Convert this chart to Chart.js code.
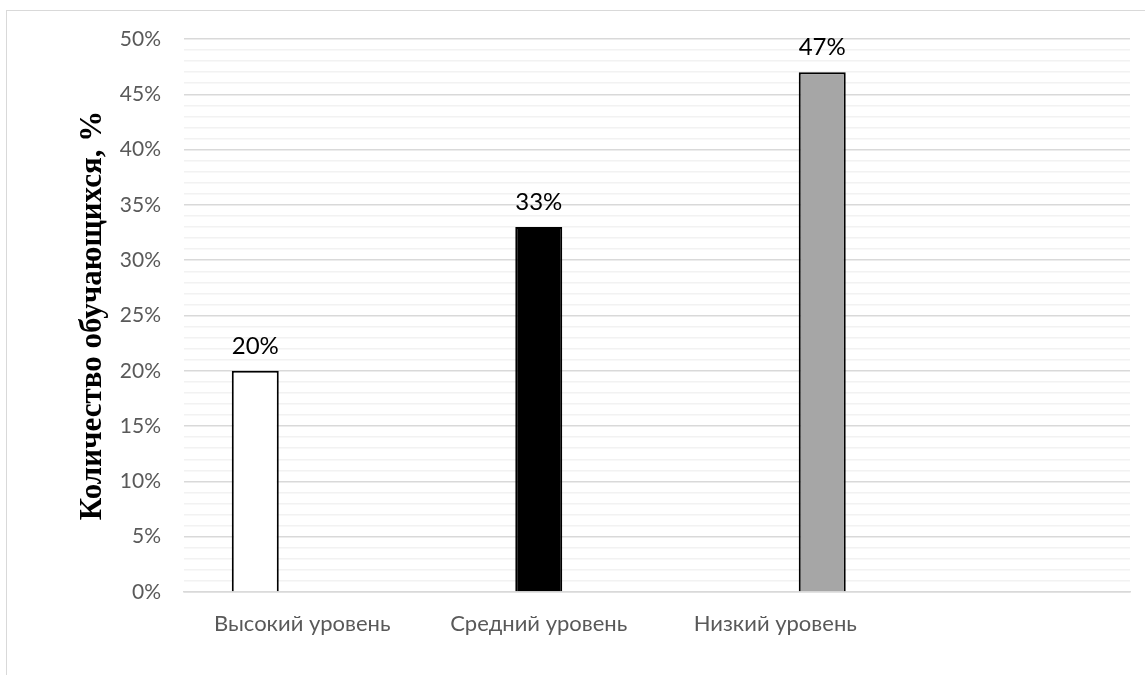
<!DOCTYPE html>
<html>
<head>
<meta charset="utf-8">
<script src="https://cdn.jsdelivr.net/npm/chart.js@4"></script>
<style>
    html, body { margin: 0; padding: 0; background: #fff; overflow: hidden; }
    #frame {
        position: absolute; left: 6px; top: 10px; width: 1200px; height: 700px;
        border-left: 1.5px solid #d9d9d9; border-top: 1.5px solid #d9d9d9;
    }
    #wrap { position: absolute; left: 0; top: 0; width: 1145px; height: 675px; }
</style>
</head>
<body>
<div id="frame"></div>
<div id="wrap"><canvas id="grafico"></canvas></div>
<script>
const categorias = ['Высокий уровень', 'Средний уровень', 'Низкий уровень', ''];
const valores = [20, 33, 47];
const cores = ['#ffffff', '#000000', '#a6a6a6'];
const tituloY = 'Количество обучающихся, %';

const fonteCalibri = 'Lato, "Open Sans", Arial, sans-serif';

// one dataset per level, value only in its own category
const datasets = valores.map(function (v, i) {
    const linha = categorias.map(function () { return null; });
    linha[i] = v;
    return {
        data: linha,
        backgroundColor: cores[i],
        borderColor: '#000000',
        borderWidth: 2,
        categoryPercentage: 0.596,
        barPercentage: 1.0
    };
});

const rotulosPlugin = {
    id: 'rotulos',
    afterDatasetsDraw(chart) {
        const ctx = chart.ctx;
        ctx.save();
        ctx.fillStyle = '#000000';
        ctx.font = '24px ' + fonteCalibri;
        ctx.textAlign = 'center';
        ctx.textBaseline = 'middle';
        chart.data.datasets.forEach(function (ds, i) {
            const meta = chart.getDatasetMeta(i);
            meta.data.forEach(function (el, j) {
                if (ds.data[j] === null) return;
                ctx.fillText(ds.data[j] + '%', el.x, el.y - 25);
            });
        });
        ctx.restore();
    }
};

const ctx = document.getElementById('grafico').getContext('2d');
new Chart(ctx, {
    type: 'bar',
    data: { labels: categorias, datasets: datasets },
    options: {
        responsive: true,
        maintainAspectRatio: false,
        animation: false,
        layout: { padding: { top: 39, right: 15, left: 0, bottom: 0 } },
        plugins: {
            legend: { display: false },
            tooltip: { enabled: false }
        },
        scales: {
            x: {
                grid: { display: false },
                border: { color: '#d9d9d9', width: 1.5 },
                ticks: {
                    color: '#595959',
                    font: { family: fonteCalibri, size: 22 },
                    padding: 11,
                    maxRotation: 0
                },
                afterFit: function (scale) { scale.height = 83; }
            },
            y: {
                min: 0,
                max: 50,
                border: { display: false },
                grid: {
                    drawTicks: false,
                    lineWidth: 1.5,
                    color: function (c) {
                        return c.tick && c.tick.value % 5 === 0 ? '#d9d9d9' : '#f2f2f2';
                    }
                },
                ticks: {
                    stepSize: 1,
                    autoSkip: false,
                    color: '#595959',
                    font: { family: fonteCalibri, size: 21 },
                    padding: 23,
                    callback: function (v) { return v % 5 === 0 ? v + '%' : ''; }
                },
                title: {
                    display: true,
                    text: tituloY,
                    color: '#000000',
                    font: { family: '"Liberation Serif", "Times New Roman", serif', size: 31, weight: 'bold' },
                    padding: { top: 74, bottom: 0 }
                },
                afterFit: function (scale) { scale.width = 184; }
            }
        }
    },
    plugins: [rotulosPlugin]
});
</script>
</body>
</html>
